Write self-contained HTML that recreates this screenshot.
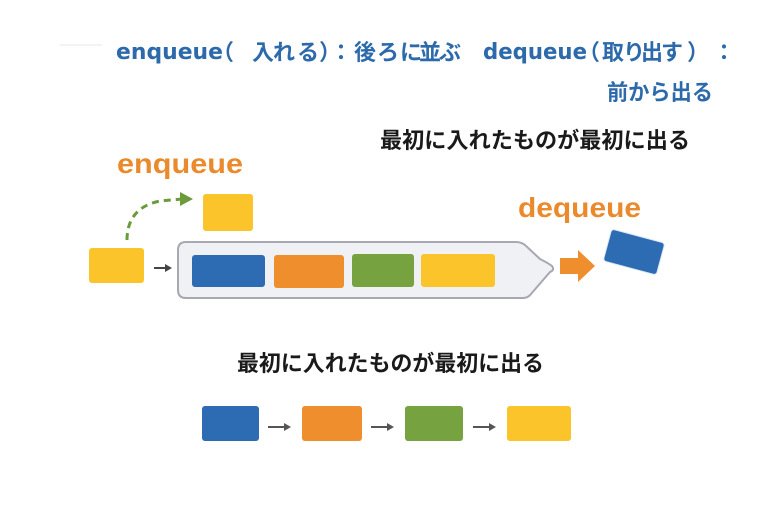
<!DOCTYPE html>
<html><head><meta charset="utf-8"><style>
html,body{margin:0;padding:0;background:#fff;}
svg{display:block;}
</style></head><body>
<svg width="768" height="512" viewBox="0 0 768 512" xmlns="http://www.w3.org/2000/svg">
<rect width="768" height="512" fill="#ffffff"/>
<line x1="60" y1="45" x2="102" y2="45" stroke="#f3f3f3" stroke-width="2"/>

<!-- Title line 1 -->
<text x="116" y="59" font-family="DejaVu Sans, sans-serif" font-weight="bold" font-size="22" fill="#2d6aab" textLength="107" lengthAdjust="spacingAndGlyphs">enqueue</text>
<text y="60" font-family="Noto Sans CJK JP, sans-serif" font-weight="bold" font-size="22" fill="#2d6aab" x="212 252 273 297 319 330 354 377 400 419 439">（入れる）：後ろに並ぶ</text>
<text x="483" y="59" font-family="DejaVu Sans, sans-serif" font-weight="bold" font-size="22" fill="#2d6aab" textLength="104" lengthAdjust="spacingAndGlyphs">dequeue</text>
<text y="60" font-family="Noto Sans CJK JP, sans-serif" font-weight="bold" font-size="22" fill="#2d6aab" x="578 602 623 641 661 687 713">（取り出す）：</text>

<!-- Title line 2 -->
<text x="607" y="100" font-family="Noto Sans CJK JP, sans-serif" font-weight="bold" font-size="22" fill="#2d6aab" textLength="106" lengthAdjust="spacingAndGlyphs">前から出る</text>

<!-- Black heading -->
<text x="380" y="148" font-family="Noto Sans CJK JP, sans-serif" font-weight="bold" font-size="22" fill="#1a1a1a" textLength="310" lengthAdjust="spacingAndGlyphs">最初に入れたものが最初に出る</text>

<!-- enqueue label -->
<text x="117" y="173" font-family="Liberation Sans, sans-serif" font-weight="bold" font-size="28" fill="#ea8a2c" textLength="126" lengthAdjust="spacingAndGlyphs">enqueue</text>

<!-- dequeue label -->
<text x="518" y="217" font-family="Liberation Sans, sans-serif" font-weight="bold" font-size="28" fill="#ea8a2c" textLength="123" lengthAdjust="spacingAndGlyphs">dequeue</text>

<!-- dashed curve -->
<path d="M127 240 C127 222 135 206 160 201 L182 199" fill="none" stroke="#6b9b3b" stroke-width="3" stroke-dasharray="7 5"/>
<polygon points="180,192 193,199 180,206" fill="#6b9b3b"/>

<!-- small yellow top -->
<rect x="203" y="194" width="50" height="37" rx="3" fill="#fbc42a"/>

<!-- left yellow -->
<rect x="89" y="248" width="55" height="35" rx="3" fill="#fbc42a"/>

<!-- small arrow -->
<line x1="154" y1="268" x2="167" y2="268" stroke="#444" stroke-width="2"/>
<polygon points="165,264 172,268 165,272" fill="#444"/>

<!-- container -->
<path d="M186 242 H516 Q521 242 525 245 L540 259 Q548 263 552 266 Q555 270 550 272 L531 294 Q528 298 523 298 H186 Q178 298 178 290 V250 Q178 242 186 242 Z" fill="#f0f1f5" stroke="#a6a9b1" stroke-width="2"/>

<!-- inner boxes -->
<rect x="192" y="255" width="73" height="32" rx="3" fill="#2d6cb3"/>
<rect x="274" y="255" width="70" height="33" rx="3" fill="#ee8e2d"/>
<rect x="352" y="254" width="62" height="33" rx="3" fill="#77a240"/>
<rect x="421" y="254" width="74" height="33" rx="3" fill="#fbc42a"/>

<!-- orange arrow -->
<polygon points="560,258 578,258 578,250 595,266 578,282 578,274 560,274" fill="#ee8e2d"/>

<!-- tilted blue -->
<rect x="-27.5" y="-16.5" width="55" height="33" rx="3" fill="#2d6cb3" stroke="#dce8f5" stroke-width="1" transform="translate(634 252) rotate(15)"/>

<!-- bottom heading -->
<text x="237" y="371" font-family="Noto Sans CJK JP, sans-serif" font-weight="bold" font-size="22" fill="#1a1a1a" textLength="307" lengthAdjust="spacingAndGlyphs">最初に入れたものが最初に出る</text>

<!-- bottom boxes -->
<rect x="202" y="406" width="57" height="35" rx="3" fill="#2d6cb3"/>
<rect x="302" y="406" width="60" height="35" rx="3" fill="#ee8e2d"/>
<rect x="405" y="406" width="58" height="35" rx="3" fill="#77a240"/>
<rect x="507" y="406" width="64" height="35" rx="3" fill="#fbc42a"/>

<g stroke="#555" stroke-width="2">
<line x1="268" y1="427" x2="285" y2="427"/>
<line x1="371" y1="427" x2="388" y2="427"/>
<line x1="473" y1="427" x2="490" y2="427"/>
</g>
<g fill="#555">
<polygon points="284,423 291,427 284,431"/>
<polygon points="387,423 394,427 387,431"/>
<polygon points="489,423 496,427 489,431"/>
</g>
</svg>
</body></html>
